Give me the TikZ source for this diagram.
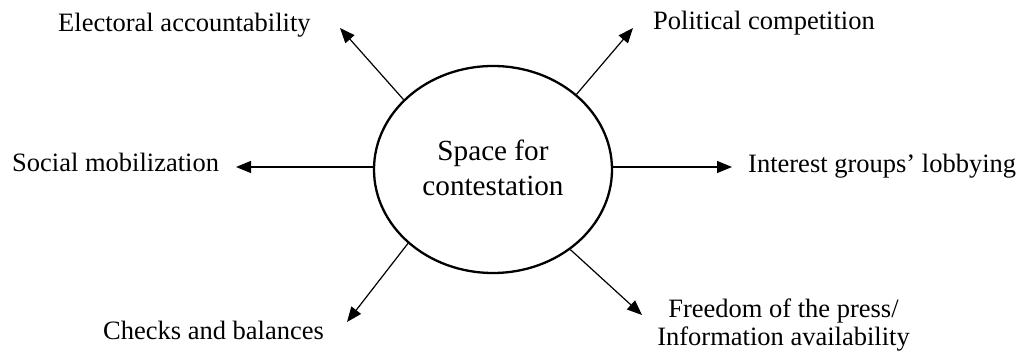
\documentclass[tikz,border=0pt]{standalone}
\usepackage{fontspec}
\setmainfont{Liberation Serif}
\usetikzlibrary{arrows.meta,shapes.geometric}
\tikzset{
  lbl/.style={inner sep=0pt, font=\fontsize{26.5}{28}\selectfont},
  conn/.style={line width=1.2pt, -{Triangle[length=15pt,width=12pt]}},
  hub/.style={ellipse, draw, line width=2.3pt, minimum width=238pt, minimum height=207pt, inner sep=0pt}
}
\begin{document}
\begin{tikzpicture}[x=1pt,y=-1pt]
\useasboundingbox (0,0) rectangle (1021,358);
\node[hub] (c) at (493,169.5) {};
\node[inner sep=0pt, font=\fontsize{29.2}{35}\selectfont, align=center, anchor=base] (ct) at (493,196) {Space for\\contestation};
% tips
\coordinate (tEA) at (340,28);
\coordinate (tPC) at (633,28);
\coordinate (tSM) at (236,167);
\coordinate (tIG) at (732,167);
\coordinate (tCB) at (347,322);
\coordinate (tFP) at (642,315);
% labels
\node[lbl, anchor=base west] (ea) at (58,32) {Electoral accountability};
\node[lbl, anchor=base west] (pc) at (653,30) {Political competition};
\node[lbl, anchor=base west] (ig) at (748,173) {Interest groups’ lobbying};
\node[lbl, anchor=base west] (sm) at (12,172) {Social mobilization};
\node[lbl, anchor=base west] (cb) at (103,340) {Checks and balances};
\node[lbl, anchor=base, align=center] (fp) at (783.5,345) {Freedom of the press/\\Information availability};
% connectors
\draw[conn] (c.142) -- (tEA);
\draw[conn] (c.42) -- (tPC);
\draw[conn] (tSM -| c.west) -- (tSM);
\draw[conn] (tIG -| c.east) -- (tIG);
\draw[conn] (c.221) -- (tCB);
\draw[conn] (c.314.5) -- (tFP);
\end{tikzpicture}
\end{document}
